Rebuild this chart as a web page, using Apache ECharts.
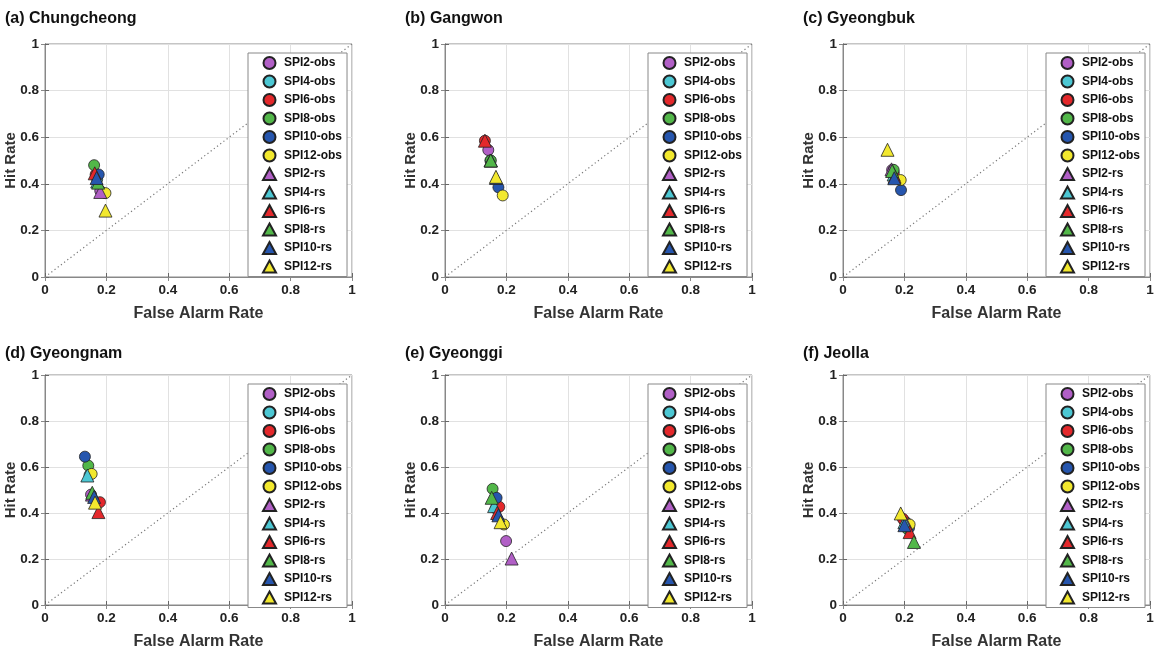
<!DOCTYPE html>
<html><head><meta charset="utf-8">
<script src="https://cdn.jsdelivr.net/npm/echarts@6/dist/echarts.min.js"></script>
<style>html,body{margin:0;padding:0;background:#fff}#c{width:1174px;height:651px}</style>
</head><body><div id="c"></div>
<script>
const panelTitles = ['(a) Chungcheong','(b) Gangwon','(c) Gyeongbuk','(d) Gyeongnam','(e) Gyeonggi','(f) Jeolla'];
const seriesNames = ['SPI2-obs','SPI4-obs','SPI6-obs','SPI8-obs','SPI10-obs','SPI12-obs','SPI2-rs','SPI4-rs','SPI6-rs','SPI8-rs','SPI10-rs','SPI12-rs'];
const seriesColors = ['#B15FC6','#4CC7D3','#E4282B','#52B749','#2656AE','#F2E82E'];
const tickLabels = ['0','0.2','0.4','0.6','0.8','1'];
// [FAR, HR] for SPI2, SPI4, SPI6, SPI8, SPI10, SPI12
const chungcheongObs = [[0.18,0.37],[0.17,0.42],[0.165,0.44],[0.16,0.48],[0.175,0.44],[0.197,0.36]];
const chungcheongRs  = [[0.18,0.365],[0.17,0.41],[0.162,0.445],[0.173,0.405],[0.168,0.425],[0.197,0.285]];
const gangwonObs = [[0.141,0.545],[0.148,0.50],[0.13,0.585],[0.149,0.50],[0.174,0.385],[0.188,0.35]];
const gangwonRs  = [[0.148,0.50],[0.15,0.50],[0.13,0.585],[0.149,0.50],[0.166,0.425],[0.166,0.43]];
const gyeongbukObs = [[0.16,0.46],[0.165,0.45],[0.165,0.44],[0.165,0.46],[0.189,0.373],[0.188,0.416]];
const gyeongbukRs  = [[0.158,0.462],[0.165,0.44],[0.168,0.43],[0.16,0.455],[0.167,0.424],[0.145,0.546]];
const gyeongnamObs = [[0.15,0.48],[0.145,0.565],[0.179,0.447],[0.141,0.606],[0.13,0.645],[0.152,0.57]];
const gyeongnamRs  = [[0.153,0.48],[0.138,0.563],[0.174,0.404],[0.154,0.488],[0.16,0.47],[0.163,0.445]];
const gyeonggiObs = [[0.199,0.278],[0.165,0.42],[0.177,0.427],[0.155,0.505],[0.168,0.466],[0.192,0.35]];
const gyeonggiRs  = [[0.217,0.202],[0.16,0.43],[0.17,0.40],[0.152,0.466],[0.174,0.39],[0.181,0.36]];
const jeollaObs = [[0.205,0.36],[0.2,0.365],[0.195,0.375],[0.21,0.33],[0.215,0.335],[0.217,0.35]];
const jeollaRs  = [[0.205,0.355],[0.2,0.36],[0.217,0.317],[0.231,0.274],[0.2,0.347],[0.188,0.398]];

const panelObs = [chungcheongObs,gangwonObs,gyeongbukObs,gyeongnamObs,gyeonggiObs,jeollaObs];
const panelRs = [chungcheongRs,gangwonRs,gyeongbukRs,gyeongnamRs,gyeonggiRs,jeollaRs];

const FONT = 'Liberation Sans, Arial, sans-serif';
const lefts = [45,445,843];
const tops = [44,375];
const heights = [233,231];
const W = 307;

const option = {animation:false, backgroundColor:'#fff', title:[], grid:[], xAxis:[], yAxis:[], legend:[], series:[]};
const legendData = seriesNames.map((n,i)=>({name:n, icon: i<6 ? 'circle' : 'triangle'}));

for (let p=0;p<6;p++){
  const col = p%3, row = Math.floor(p/3);
  const L = lefts[col], T = tops[row], H = heights[row];
  option.title.push({text:panelTitles[p], left:L-40, top: row===0 ? T-33 : T-29, padding:0,
    textStyle:{fontFamily:FONT,fontWeight:'bold',fontSize:16,color:'#111'}});
  option.grid.push({left:L, top:T, width:W, height:H, show:true, borderColor:'#8a8a8a', borderWidth:1, backgroundColor:'#fff'});
  const axBase = {type:'value', min:0, max:1, interval:0.2, gridIndex:p};
  option.xAxis.push(Object.assign({}, axBase, {
    name:'False Alarm Rate', nameLocation:'middle', nameGap:29, nameMoveOverlap:false,
    nameTextStyle:{fontFamily:FONT,fontWeight:'bold',fontSize:16,color:'#333'},
    axisLine:{show:true,lineStyle:{color:'#666'}},
    axisTick:{show:true,inside:true,length:4,lineStyle:{color:'#666'}},
    axisLabel:{fontFamily:FONT,fontWeight:'bold',fontSize:13.5,color:'#222',margin:6,
      formatter:(v)=>tickLabels[Math.round(v*5)]},
    splitLine:{show:true,lineStyle:{color:'#e1e1e1',width:1}}
  }));
  option.xAxis.push(Object.assign({}, axBase, {position:'top',
    axisLine:{show:true,lineStyle:{color:'#888'}},
    axisTick:{show:true,inside:true,length:4,lineStyle:{color:'#888'}},
    axisLabel:{show:false}, splitLine:{show:false}}));
  option.yAxis.push(Object.assign({}, axBase, {
    name:'Hit Rate', nameLocation:'middle', nameGap:27, nameMoveOverlap:false,
    nameTextStyle:{fontFamily:FONT,fontWeight:'bold',fontSize:15,color:'#333'},
    axisLine:{show:true,lineStyle:{color:'#666'}},
    axisTick:{show:true,inside:true,length:4,lineStyle:{color:'#666'}},
    axisLabel:{fontFamily:FONT,fontWeight:'bold',fontSize:13.5,color:'#222',margin:6,
      formatter:(v)=>tickLabels[Math.round(v*5)]},
    splitLine:{show:true,lineStyle:{color:'#e1e1e1',width:1}}
  }));
  option.yAxis.push(Object.assign({}, axBase, {position:'right',
    axisLine:{show:true,lineStyle:{color:'#888'}},
    axisTick:{show:true,inside:true,length:4,lineStyle:{color:'#888'}},
    axisLabel:{show:false}, splitLine:{show:false}}));
  const xi = p*2, yi = p*2;
  option.series.push({type:'line', xAxisIndex:xi, yAxisIndex:yi, data:[[0,0],[1,1]], symbol:'none',
    lineStyle:{color:'#777',width:1.2,type:[1.2,2.8]}, silent:true, z:1});
  for (let s=0;s<12;s++){
    const isObs = s<6, k = s%6;
    const pt = isObs ? panelObs[p][k] : panelRs[p][k];
    option.series.push({type:'scatter', name:seriesNames[s], xAxisIndex:xi, yAxisIndex:yi,
      data:[pt], symbol: isObs ? 'circle' : 'triangle', symbolSize: isObs ? 11 : 13,
      itemStyle:{color:seriesColors[k], borderColor:'#222', borderWidth:0.8, opacity:1}, z:2+s});
  }
  option.legend.push({orient:'vertical', left:L+203, top:T+9, data:legendData,
    itemWidth:13, itemHeight:12, itemGap:4.5, padding:[3,5,3,14], selectedMode:false,
    borderColor:'#888', borderWidth:1, backgroundColor:'#fff',
    textStyle:{fontFamily:FONT,fontWeight:'bold',fontSize:12,color:'#111',padding:[0,0,0,3]}});
}
const chart = echarts.init(document.getElementById('c'), null, {renderer:'canvas'});
chart.setOption(option);
</script></body></html>
